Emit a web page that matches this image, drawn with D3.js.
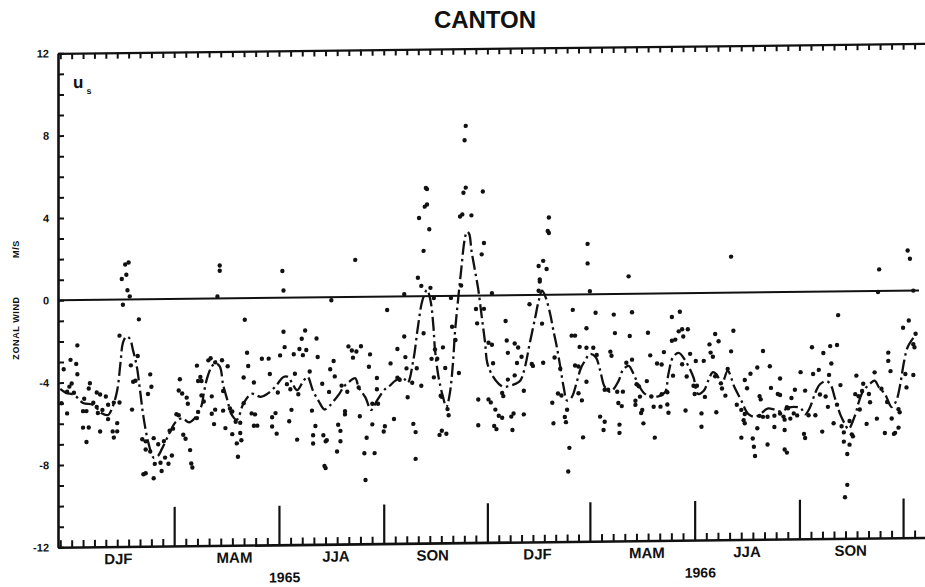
<!DOCTYPE html>
<html>
<head>
<meta charset="utf-8">
<script src="https://cdn.jsdelivr.net/npm/d3@7"></script>
<style>
  html, body { margin: 0; padding: 0; background: #fff; }
  svg { display: block; }
  text { font-family: "Liberation Sans", Arial, sans-serif; font-weight: bold; fill: #111; }
</style>
</head>
<body>
<svg id="chart" width="925" height="587"></svg>
<script>
// day numbers are counted from 21 Nov 1964
const seasonStarts = [100, 192, 284, 375, 465, 557, 649, 740]
const seasonNames = ['DJF', 'MAM', 'JJA', 'SON', 'DJF', 'MAM', 'JJA', 'SON']
const seasonLabelDays = [51, 153, 242, 327, 419, 515, 603, 694]
const years = ['1965', '1966']
const yearLabelDays = [197, 562]
const yLabelled = [-12, -8, -4, 0, 4, 8, 12]

// dash-dot smoothed zonal wind (day, m/s)
const smoothed = [
  [0,-4.3],[5,-4.5],[12,-4.6],[20,-5.0],[29,-5.1],[36,-5.5],[42,-5.6],[46,-5.2],[50,-4.4],[53,-3.0],
  [55,-2.1],[58,-1.8],[61,-1.9],[64,-2.5],[67,-3.2],[70,-4.4],[73,-5.7],[77.5,-7.0],[82,-7.7],[86,-7.6],
  [89,-7.3],[96,-6.5],[101,-6.0],[107,-5.8],[113,-6.0],[118,-5.8],[124,-5.2],[126,-4.6],[129,-3.85],[133,-3.3],
  [136,-3.15],[140,-3.3],[143,-4.2],[147,-5.0],[150,-5.6],[155,-5.9],[161,-5.1],[168,-4.65],[176,-4.8],[182,-4.65],
  [189,-4.3],[196,-3.85],[200,-3.85],[204,-4.2],[208,-4.5],[213,-4.1],[217,-3.85],[222,-4.55],[227,-5.05],[232,-5.45],
  [236,-5.3],[240,-5.05],[245,-4.7],[249,-4.35],[253,-4.15],[259,-3.95],[262,-4.4],[268,-4.9],[273,-5.5],[278,-5.05],
  [285,-4.5],[290,-4.3],[294,-4.1],[301,-3.95],[305,-4.2],[310,-3.1],[314,-1.5],[318,-0.2],[322,0.3],[325,-0.2],
  [327.5,-1.4],[329,-2.6],[332,-3.9],[336,-4.9],[339,-5.4],[342,-4.75],[345,-3.1],[346.5,-1.8],[349,-0.35],[352,1.25],
  [355,2.7],[357,3.1],[359,3.0],[361,2.2],[364,1.25],[367,0.3],[370,-1.0],[373,-2.3],[375,-3.3],[380,-3.95],
  [385,-4.3],[389,-4.45],[395,-4.4],[400,-4.3],[404,-4.15],[408,-3.5],[412,-2.4],[417,-1.1],[420,-0.3],[423,0.2],
  [426,-0.1],[430,-0.9],[433,-1.75],[436,-2.55],[439,-3.5],[442,-4.5],[445,-5.15],[449,-5.0],[454,-4.15],[457,-3.6],
  [461,-3.2],[465,-2.9],[470,-3.05],[474,-3.7],[478,-4.5],[483,-4.75],[490,-4.25],[494,-3.7],[499,-3.5],[503,-3.85],
  [507,-4.35],[512,-4.8],[516,-4.95],[525,-5.0],[531,-4.8],[534,-3.9],[538,-3.1],[543,-2.9],[548,-3.2],[552,-3.6],
  [556,-4.1],[560,-4.9],[565,-4.75],[569,-4.25],[573,-3.85],[576,-3.95],[581,-4.4],[586,-3.8],[592,-4.6],[598,-5.25],
  [604,-5.9],[610,-6.05],[615,-5.9],[621,-5.65],[627,-5.7],[633,-5.8],[640,-5.6],[650,-5.65],[654,-5.95],[658,-5.65],
  [663,-4.9],[667,-4.5],[673,-4.35],[677,-4.6],[680,-5.15],[685,-6.0],[689,-6.45],[692,-6.7],[698,-6.0],[701,-5.4],
  [705,-4.85],[711,-4.5],[715,-4.35],[719,-4.7],[724,-5.0],[730,-5.65],[734,-5.35],[737,-4.7],[741,-3.4],[744,-2.75],
  [749,-2.3]
]

// daily observations, Dec 1964 - Nov 1965
const obsFirstYear = [
  [15,-2.2],[9,-2.9],[14,-3.1],[3,-3.35],[15,-3.6],[10,-4.05],[8,-4.2],[6,-4.45],[12,-4.5],[1,-5.0],[6,-5.5],
  [25,-4.3],[26,-4.05],[32,-4.5],[35,-4.6],[40,-4.7],[21,-4.8],[20,-5.4],[23,-5.4],[29,-5.0],[32,-5.2],[33,-5.5],
  [37,-5.35],[20,-6.2],[25,-6.2],[35,-6.4],[23,-6.9],[42,-5.1],[42,-5.8],[46,-6.4],[50,-6.4],[47,-6.7],[50,-6.0],
  [47,-5.0],[52,-5.0],[55,-0.25],[54,1.0],[58,1.2],[57,1.7],[60,1.8],[59,0.45],[61,0.15],[69,-0.97],[52,-1.75],
  [62,-3.2],[64,-4.0],[66,-3.95],[63,-5.35],[68,-2.75],[79,-3.65],[80,-4.25],[77,-4.6],[72,-6.8],[75,-6.9],
  [82,-6.75],[75,-7.3],[79,-7.4],[75,-8.45],[73,-8.5],[82,-8.7],[83,-8.0],[88,-7.95],[89,-8.35],[95,-8.0],
  [98,-7.6],[92,-7.7],[86,-7.05],[91,-6.9],[96,-6.4],[99,-6.3],[102,-5.6],[104,-5.65],[105,-3.9],[104,-4.45],
  [107,-4.6],[111,-4.8],[112,-5.1],[108,-6.6],[110,-6.8],[114,-7.35],[115,-8.0],[116,-8.2],[120,-3.25],[121,-4.0],
  [124,-4.7],[126,-5.0],[121,-5.5],[120,-5.8],
  [140,1.6],[140,1.35],[138,0.1],[195,1.3],[196,0.35],[238,-0.15],[162,-1.05],[196,-1.65],[215,-1.6],[212,-2.0],
  [225,-2.0],[197,-2.4],[210,-2.5],[216,-2.55],[213,-2.8],[205,-2.75],[164,-2.65],[177,-2.95],[183,-2.95],[193,-2.8],
  [226,-2.9],[240,-3.1],[253,-2.4],[130,-3.0],[132,-2.9],[136,-3.1],[142,-3.0],[147,-3.3],[165,-3.3],[184,-3.7],
  [206,-3.7],[219,-3.6],[237,-3.5],[241,-3.85],[123,-3.8],[124,-4.0],[161,-3.85],[170,-4.1],[199,-4.2],[202,-4.45],
  [191,-4.6],[209,-4.7],[230,-4.2],[236,-4.6],[247,-4.3],[133,-4.75],[143,-4.5],[136,-5.4],[133,-5.6],[143,-5.45],
  [149,-5.35],[151,-5.5],[161,-5.1],[168,-5.6],[171,-5.65],[186,-5.8],[189,-5.6],[203,-5.45],[221,-5.5],[250,-5.7],
  [135,-6.1],[145,-6.3],[154,-6.0],[158,-6.05],[170,-6.2],[173,-6.2],[186,-6.25],[201,-6.0],[224,-6.25],[244,-6.2],
  [246,-6.5],[151,-6.6],[158,-6.55],[190,-6.6],[208,-6.9],[222,-6.7],[231,-6.7],[233,-7.0],[234,-6.95],[246,-7.0],
  [159,-6.9],[155,-7.05],[222,-7.1],[243,-7.5],[156,-7.7],[233,-8.3],[232,-8.2],
  [356,8.25],[355,7.55],[322,5.2],[321,5.25],[322,4.45],[320,4.35],[356,5.25],[354,5.0],[371,5.05],[315,3.8],
  [351,3.85],[353,3.95],[361,3.9],[324,3.25],[319,2.2],[372,2.55],[370,2.0],[259,1.8],[314,0.9],[317,0.5],
  [325,0.4],[302,0.1],[343,-0.1],[352,0.5],[328,-0.1],[287,-0.65],[365,-0.65],[372,-0.65],[366,-1.35],
  [319,-1.8],[344,-1.5],[347,-2.15],[302,-1.95],[296,-2.55],[303,-2.95],[329,-2.6],[336,-2.5],[256,-2.6],[260,-2.65],
  [264,-2.4],[257,-2.95],[272,-2.8],[271,-3.4],[290,-3.25],[304,-3.5],[313,-3.5],[326,-3.05],[331,-3.05],[338,-3.5],
  [350,-3.75],[278,-3.95],[296,-3.95],[298,-4.05],[317,-4.35],[328,-3.95],[252,-4.6],[250,-5.55],[262,-4.4],[278,-4.5],
  [309,-4.2],[334,-4.85],[335,-4.9],[367,-5.05],[274,-5.2],[279,-5.2],[305,-4.9],[340,-5.5],[341,-5.8],[263,-5.8],
  [293,-5.95],[274,-6.2],[285,-6.3],[310,-6.2],[312,-6.6],[284,-6.55],[335,-6.55],[339,-6.7],[333,-6.75],[367,-6.3],
  [269,-6.85],[267,-7.6],[276,-7.6],[312,-7.9],[268,-8.9]
]

// daily observations, Dec 1965 - Dec 1966
const obsSecondYear = [
  [376,-2.3],[376,-5.05],[379,0.1],[381,-6.35],
  [429,3.75],[429,3.0],[428,3.1],[463,2.45],[463,1.5],[499,0.85],[424,1.65],[420,1.4],[427,1.25],[421,0.75],
  [421,0.65],[420,0.2],[465,0.15],[412,-0.45],[450,-0.75],[470,-0.9],[486,-1.0],[502,-0.9],[391,-1.25],[423,-1.4],
  [462,-1.65],[487,-1.9],[500,-2.05],[449,-2.0],[452,-2.0],[392,-2.2],[399,-2.35],[402,-2.55],[379,-2.4],[456,-2.55],
  [462,-2.6],[468,-2.6],[393,-2.8],[405,-3.0],[483,-2.8],[484,-3.0],[471,-2.95],[401,-3.3],[414,-3.35],[415,-3.45],
  [424,-3.3],[439,-3.6],[434,-3.05],[502,-3.2],[497,-3.35],[380,-3.3],[452,-3.45],[455,-3.5],[399,-3.9],[393,-4.1],
  [462,-4.25],[478,-4.65],[481,-4.65],[506,-4.4],[388,-4.75],[389,-4.9],[407,-4.65],[489,-4.75],[494,-4.75],[437,-4.8],
  [440,-4.9],[455,-4.8],[458,-5.15],[378,-5.2],[382,-5.55],[490,-5.3],[493,-5.45],[505,-5.2],[385,-5.85],[388,-5.95],
  [396,-5.9],[398,-5.75],[407,-5.8],[432,-5.25],[445,-5.6],[443,-5.95],[444,-6.2],[433,-6.25],[474,-5.95],[478,-6.2],
  [477,-6.6],[491,-6.35],[491,-6.75],[383,-6.5],[397,-6.55],[459,-6.95],[447,-7.45],[446,-8.6],
  [589,1.75],[537,-1.15],[544,-0.9],[546,-1.75],[543,-1.85],[551,-1.75],[516,-1.9],[575,-2.0],[591,-1.85],[540,-2.25],
  [537,-2.3],[547,-2.1],[578,-2.35],[570,-2.5],[518,-3.0],[530,-2.85],[553,-2.95],[571,-2.9],[573,-3.1],[589,-2.85],
  [617,-2.85],[524,-3.4],[528,-3.45],[546,-3.45],[558,-3.3],[565,-3.3],[586,-3.7],[623,-3.6],[612,-3.65],[538,-4.0],
  [550,-4.05],[508,-4.5],[515,-4.25],[575,-4.05],[601,-4.25],[603,-4.65],[606,-3.95],[556,-4.5],[559,-4.5],
  [580,-4.4],[581,-4.65],[624,-4.65],[509,-5.0],[519,-5.0],[528,-4.9],[533,-4.8],[557,-4.9],[566,-5.05],[584,-5.0],
  [615,-5.2],[614,-5.05],[630,-4.95],[505,-5.4],[511,-5.65],[521,-5.5],[527,-5.5],[533,-5.4],[594,-5.45],[598,-5.7],
  [601,-5.9],[614,-6.0],[617,-6.05],[621,-6.05],[627,-6.0],[510,-5.8],[534,-5.8],[549,-5.7],[563,-5.85],[576,-5.8],
  [512,-6.3],[563,-6.5],[600,-6.2],[601,-6.35],[612,-6.6],[627,-6.55],[522,-7.0],[598,-7.05],[608,-7.1],[609,-7.5],
  [621,-7.4],[610,-7.95],[636,-7.65],
  [744,1.95],[746,1.55],[719,1.05],[718,-0.05],[749,0.0],[683,-1.15],[745,-1.45],[740,-1.8],[751,-2.1],[660,-2.7],
  [676,-2.65],[682,-2.6],[670,-2.98],[727,-3.0],[727,-3.4],[749,-2.6],[750,-2.75],[677,-3.5],[650,-3.9],[666,-3.8],
  [661,-4.0],[675,-4.05],[729,-3.9],[715,-3.95],[742,-4.05],[749,-4.1],[632,-4.2],[699,-4.1],[685,-4.55],[645,-4.75],
  [654,-4.8],[667,-5.0],[672,-5.1],[705,-4.5],[704,-4.85],[710,-5.0],[711,-5.4],[698,-5.0],[701,-5.1],[721,-4.75],
  [743,-4.7],[632,-5.0],[642,-5.15],[638,-5.6],[639,-5.65],[632,-5.9],[635,-6.05],[644,-5.9],[647,-6.0],[657,-6.0],
  [663,-6.0],[674,-5.6],[682,-5.5],[702,-5.75],[726,-5.4],[736,-5.75],[737,-5.9],[636,-6.2],[641,-6.15],[679,-6.4],
  [693,-6.3],[708,-6.45],[717,-6.2],[730,-6.2],[636,-6.7],[653,-6.9],[654,-7.1],[669,-6.8],[686,-6.55],[688,-6.85],
  [695,-6.95],[696,-7.05],[688,-7.3],[693,-7.45],[724,-6.9],[733,-6.9],[732,-6.95],[736,-6.65],[638,-7.8],[691,-7.9],
  [691,-9.4],[689,-10.0]
]

const svg = d3.select('#chart')

const x = d3.scaleLinear().domain([-2, 761]).range([58, 927])
const y = d3.scaleLinear().domain([-12, 12]).range([547.3, 53.3])

// minor ticks: each season split in 9, plus the stretch before March 1965
const minorTicks = []
for (let d = seasonStarts[0] - 10; d >= 0; d -= 10) minorTicks.push(d)
seasonStarts.forEach((s, i) => {
  const next = i < seasonStarts.length - 1 ? seasonStarts[i + 1] : s + 91
  const step = (next - s) / 9
  for (let k = 1; k < 9; k++) minorTicks.push(s + k * step)
  if (i === seasonStarts.length - 1) minorTicks.push(next)
})

svg.append('text')
  .attr('x', 485).attr('y', 28)
  .attr('text-anchor', 'middle')
  .style('font-size', '24px')
  .text('CANTON')

svg.append('text')
  .attr('transform', 'translate(16,328) rotate(-90)')
  .attr('text-anchor', 'middle').attr('dy', '0.35em')
  .style('font-size', '9px').style('letter-spacing', '0.6px')
  .text('ZONAL WIND')
svg.append('text')
  .attr('transform', 'translate(16,249) rotate(-90)')
  .attr('text-anchor', 'middle').attr('dy', '0.35em')
  .style('font-size', '9px').style('letter-spacing', '0.6px')
  .text('M/S')

// the scanned figure is slightly skewed
const g = svg.append('g')
  .attr('transform', 'translate(58,300) skewY(-0.65) translate(-58,-300)')

const styleAxis = (sel, width) => {
  sel.select('.domain').attr('stroke', '#111').attr('stroke-width', width)
  sel.selectAll('.tick line').attr('stroke', '#111').attr('stroke-width', 2)
}

g.append('g')
  .attr('class', 'axis-bottom')
  .attr('transform', `translate(0,${y(-12)})`)
  .call(d3.axisBottom(x).tickValues(minorTicks).tickSizeInner(-7).tickSizeOuter(0).tickFormat(() => ''))
  .call(s => styleAxis(s, 2.6))

g.append('g')
  .attr('class', 'axis-season')
  .attr('transform', `translate(0,${y(-12)})`)
  .call(d3.axisBottom(x).tickValues(seasonStarts).tickSizeInner(-(y(-12) - y(-10.1))).tickSizeOuter(0).tickFormat(() => ''))
  .call(s => { s.select('.domain').remove(); s.selectAll('.tick line').attr('stroke', '#111').attr('stroke-width', 2.2) })

g.append('g')
  .attr('class', 'axis-top')
  .attr('transform', `translate(0,${y(12)})`)
  .call(d3.axisTop(x).tickValues(minorTicks.concat(seasonStarts)).tickSizeInner(-6).tickSizeOuter(0).tickFormat(() => ''))
  .call(s => styleAxis(s, 2.2))

g.append('g')
  .attr('class', 'axis-left')
  .attr('transform', `translate(${x(-2)},0)`)
  .call(d3.axisLeft(y).tickValues(d3.range(-12, 13)).tickSizeInner(-6).tickSizeOuter(0).tickPadding(9)
    .tickFormat(d => yLabelled.includes(d) ? d : ''))
  .call(s => styleAxis(s, 2.6))
  .call(s => s.selectAll('.tick text').attr('fill', '#111').style('font-size', '11px')
    .style('font-family', '"Liberation Sans", Arial, sans-serif').style('font-weight', 'bold'))

g.append('text')
  .attr('x', 73).attr('y', y(12) + 35)
  .style('font-size', '17px')
  .text('u')
  .append('tspan').attr('dx', 3).attr('dy', 6).style('font-size', '9px').text('s')

g.selectAll('.season')
  .data(seasonNames)
  .join('text')
  .attr('class', 'season')
  .attr('x', (d, i) => x(seasonLabelDays[i]))
  .attr('y', y(-12) + 17.5)
  .attr('text-anchor', 'middle')
  .style('font-size', '15px')
  .text(d => d)

g.selectAll('.year')
  .data(years)
  .join('text')
  .attr('class', 'year')
  .attr('x', (d, i) => x(yearLabelDays[i]))
  .attr('y', y(-12) + 37.5)
  .attr('text-anchor', 'middle')
  .style('font-size', '14px')
  .text(d => d)

g.append('line')
  .attr('x1', x(-2)).attr('x2', x(754))
  .attr('y1', y(0)).attr('y2', y(0))
  .attr('stroke', '#111').attr('stroke-width', 2)

g.append('path')
  .datum(smoothed)
  .attr('fill', 'none')
  .attr('stroke', '#111')
  .attr('stroke-width', 2.3)
  .attr('stroke-dasharray', '14,4,2.5,4')
  .attr('d', d3.line().x(d => x(d[0])).y(d => y(d[1])).curve(d3.curveCatmullRom.alpha(0.5)))

g.append('g')
  .selectAll('circle')
  .data(obsFirstYear.concat(obsSecondYear))
  .join('circle')
  .attr('cx', d => x(d[0]))
  .attr('cy', d => y(d[1]))
  .attr('r', 2.2)
  .attr('fill', '#111')
</script>
</body>
</html>
